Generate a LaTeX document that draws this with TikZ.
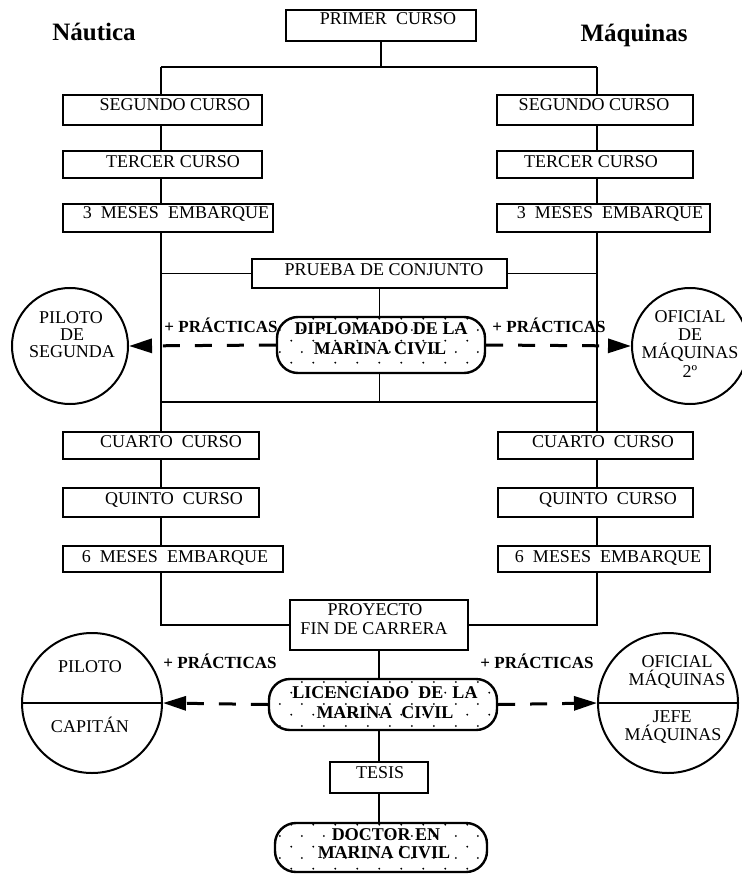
\documentclass[tikz,border=0pt]{standalone}
\usepackage{fontspec}
\setmainfont{Liberation Serif}
\usetikzlibrary{arrows.meta,patterns.meta}

\tikzdeclarepattern{
  name=sdots,
  type=colored,
  bottom left={(0pt,0pt)},
  top right={(22pt,22pt)},
  tile size={(22pt,22pt)},
  code={
    \fill[black] (5.5pt,5.5pt) circle (1.1pt);
    \fill[black] (16.5pt,16.5pt) circle (1.1pt);
  }
}

\tikzset{
  box/.style={draw, rectangle, line width=1.6pt, inner sep=0pt},
  rbox/.style={draw, rectangle, rounded corners=21pt, line width=2.4pt, inner sep=0pt, pattern=sdots},
  circ/.style={draw, circle, line width=2pt, inner sep=0pt},
  conn/.style={line width=1.8pt},
  dasharr/.style={line width=3pt, dash pattern=on 17pt off 15pt, -{Triangle[length=23pt,width=14pt]}},
  txt/.style={font=\fontsize{18pt}{20pt}\selectfont, inner sep=0pt, anchor=base},
  btxt/.style={font=\fontsize{18pt}{20pt}\selectfont\bfseries, inner sep=0pt, anchor=base},
  ptxt/.style={font=\fontsize{17pt}{19pt}\selectfont\bfseries, inner sep=0pt, anchor=base},
  ttl/.style={font=\fontsize{25pt}{28pt}\selectfont\bfseries, inner sep=0pt, anchor=base}
}

\begin{document}
\begin{tikzpicture}[x=1pt,y=-1pt]
\fill[white] (0,0) rectangle (741,874);
\useasboundingbox (0,0) rectangle (741,874);

% titles
\node[ttl] (tn) at (94,41) {Náutica};
\node[ttl] (tm) at (634,42) {Máquinas};

% boxes
\node[box, minimum width=190pt, minimum height=31pt] (p1) at (381,25.5) {};
\node[box, minimum width=199pt, minimum height=30pt] (l2) at (162.5,110) {};
\node[box, minimum width=199pt, minimum height=27pt] (l3) at (162.5,164.5) {};
\node[box, minimum width=210pt, minimum height=28pt] (l3m) at (168,218) {};
\node[box, minimum width=196pt, minimum height=30pt] (r2) at (595,110) {};
\node[box, minimum width=196pt, minimum height=27pt] (r3) at (595,164.5) {};
\node[box, minimum width=213pt, minimum height=28pt] (r3m) at (603.5,218) {};
\node[box, minimum width=255pt, minimum height=29pt] (prueba) at (379.5,273.5) {};
\node[rbox, minimum width=208pt, minimum height=56pt] (dipl) at (381,345) {};
\node[box, minimum width=196pt, minimum height=27pt] (l4) at (161,445.5) {};
\node[box, minimum width=196pt, minimum height=29pt] (l5) at (161,502.5) {};
\node[box, minimum width=220pt, minimum height=26pt] (l6m) at (173,559) {};
\node[box, minimum width=195pt, minimum height=27pt] (r4) at (595.5,445.5) {};
\node[box, minimum width=195pt, minimum height=29pt] (r5) at (595.5,502.5) {};
\node[box, minimum width=212pt, minimum height=26pt] (r6m) at (604,559) {};
\node[box, minimum width=178pt, minimum height=50pt] (proy) at (379,625) {};
\node[rbox, minimum width=228pt, minimum height=51pt] (lic) at (383,704.5) {};
\node[box, minimum width=98pt, minimum height=31pt] (tesis) at (379,777.5) {};
\node[rbox, minimum width=212pt, minimum height=49pt] (doc) at (381,847.5) {};

% circles
\node[circ, minimum size=116pt] (cL1) at (70,346) {};
\node[circ, minimum size=116pt] (cR1) at (690,346) {};
\node[circ, minimum size=140pt] (cL2) at (92,703) {};
\node[circ, minimum size=140pt] (cR2) at (668,703) {};
\draw[line width=2pt] (cL2.west) -- (cL2.east);
\draw[line width=2pt] (cR2.west) -- (cR2.east);

% spine coordinates
\coordinate (jL0) at (161,67);
\coordinate (jR0) at (597,67);
\coordinate (jL1) at (161,402);
\coordinate (jR1) at (597,402);

% connectors
\draw[conn] (p1.south) -- (p1.south |- jL0);
\draw[conn] (jL0) -- (jR0);
\draw[conn] (jL0) -- (jL0 |- l2.north);
\draw[conn] (jL0 |- l2.south) -- (jL0 |- l3.north);
\draw[conn] (jL0 |- l3.south) -- (jL0 |- l3m.north);
\draw[conn] (jL0 |- l3m.south) -- (jL1);
\draw[conn] (jL0 |- prueba.west) -- (prueba.west);
\draw[conn] (jL1) -- (jL1 |- l4.north);
\draw[conn] (jL1 |- l4.south) -- (jL1 |- l5.north);
\draw[conn] (jL1 |- l5.south) -- (jL1 |- l6m.north);
\draw[conn] (jL1 |- l6m.south) |- (proy.west);

\draw[conn] (jR0) -- (jR0 |- r2.north);
\draw[conn] (jR0 |- r2.south) -- (jR0 |- r3.north);
\draw[conn] (jR0 |- r3.south) -- (jR0 |- r3m.north);
\draw[conn] (jR0 |- r3m.south) -- (jR1);
\draw[conn] (prueba.east) -- (prueba.east -| jR0);
\draw[conn] (jR1) -- (jR1 |- r4.north);
\draw[conn] (jR1 |- r4.south) -- (jR1 |- r5.north);
\draw[conn] (jR1 |- r5.south) -- (jR1 |- r6m.north);
\draw[conn] (jR1 |- r6m.south) |- (proy.east);

\draw[conn] (jL1) -- (jR1);
\draw[conn] (prueba.south) -- (prueba.south |- dipl.north);
\draw[conn] (prueba.south |- dipl.south) -- (prueba.south |- jL1);
\draw[conn] (proy.south) -- (proy.south |- lic.north);
\draw[conn] (proy.south |- lic.south) -- (proy.south |- tesis.north);
\draw[conn] (tesis.south) -- (tesis.south |- doc.north);

% dashed arrows
\draw[dasharr] (dipl.west) -- (cL1.east);
\draw[dasharr] (dipl.east) -- (cR1.west);
\draw[dasharr] (lic.west) -- (cL2.east);
\draw[dasharr] (lic.east) -- (cR2.west);

% texts
\node[txt] (t1) at (388,25) {PRIMER\ \ CURSO};
\node[txt] (t2) at (175,110.5) {SEGUNDO CURSO};
\node[txt] (t3) at (173,168) {TERCER CURSO};
\node[txt] (t4) at (176,219) {3\ \ MESES\ \ EMBARQUE};
\node[txt] (t5) at (594,110.5) {SEGUNDO CURSO};
\node[txt] (t6) at (591,168) {TERCER CURSO};
\node[txt] (t7) at (610,219) {3\ \ MESES\ \ EMBARQUE};
\node[txt] (t8) at (384,276) {PRUEBA DE CONJUNTO};
\node[btxt] (t9) at (381,334) {DIPLOMADO DE LA};
\node[btxt] (t10) at (380,354) {MARINA CIVIL};
\node[txt] (t11) at (171,447) {CUARTO\ \ CURSO};
\node[txt] (t12) at (174,504) {QUINTO\ \ CURSO};
\node[txt] (t13) at (175,562) {6\ \ MESES\ \ EMBARQUE};
\node[txt] (t14) at (603,447) {CUARTO\ \ CURSO};
\node[txt] (t15) at (608,504) {QUINTO\ \ CURSO};
\node[txt] (t16) at (608,562) {6\ \ MESES\ \ EMBARQUE};
\node[txt] (t17) at (375,615) {PROYECTO};
\node[txt] (t18) at (374,634) {FIN DE CARRERA};
\node[btxt] (t19) at (385,698) {LICENCIADO\ \ DE\ \ LA};
\node[btxt] (t20) at (385,718) {MARINA\ \ CIVIL};
\node[txt] (t21) at (380,778) {TESIS};
\node[btxt] (t22) at (386,840) {DOCTOR EN};
\node[btxt] (t23) at (384,858) {MARINA CIVIL};

\node[txt] (c1) at (71,323) {PILOTO};
\node[txt] (c2) at (72,340) {DE};
\node[txt] (c3) at (72,357) {SEGUNDA};
\node[txt] (c4) at (690,322) {OFICIAL};
\node[txt] (c5) at (690,340) {DE};
\node[txt] (c6) at (690,358) {MÁQUINAS};
\node[txt] (c7) at (690,377) {2º};
\node[txt] (c8) at (90,672) {PILOTO};
\node[txt] (c9) at (90,732) {CAPITÁN};
\node[txt] (c10) at (677,667) {OFICIAL};
\node[txt] (c11) at (677,685) {MÁQUINAS};
\node[txt] (c12) at (672,722) {JEFE};
\node[txt] (c13) at (673,740) {MÁQUINAS};

\node[ptxt] (pr1) at (221,332) {+ PRÁCTICAS};
\node[ptxt] (pr2) at (549,332) {+ PRÁCTICAS};
\node[ptxt] (pr3) at (220,668) {+ PRÁCTICAS};
\node[ptxt] (pr4) at (537,668) {+ PRÁCTICAS};
\end{tikzpicture}
\end{document}
